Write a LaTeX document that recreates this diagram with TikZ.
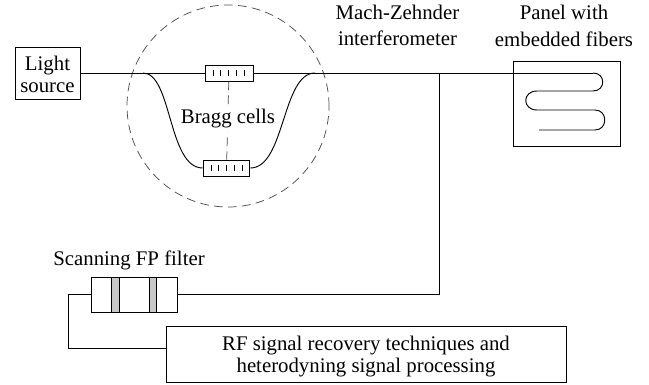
\documentclass[tikz,border=0pt]{standalone}
\usepackage{fontspec}
\setmainfont{Liberation Serif}
\tikzset{
  labeltext/.style={inner sep=0pt, align=center, font=\fontsize{15.6}{20}\selectfont},
  unitbox/.style={draw, line width=0.7pt, inner sep=0pt, align=center, font=\fontsize{15.6}{16.6}\selectfont},
  fiber/.style={line width=0.7pt},
  guide/.style={line width=0.55pt, dash pattern=on 6.5pt off 4pt, draw=black!70}
}
\begin{document}
\begin{tikzpicture}[x=0.75pt, y=-0.75pt]
\useasboundingbox (0,0) rectangle (649,385);

% Bragg cell section
\node[draw=black!70, line width=0.55pt, dash pattern=on 6.5pt off 4pt, circle, minimum size=151.5pt, inner sep=0pt] (ring) at (228,106) {};
\node[unitbox, minimum width=36pt, minimum height=12pt] (uppercell) at (229,73) {};
\node[unitbox, minimum width=35pt, minimum height=12pt] (lowercell) at (226.5,168) {};
\foreach \i in {0,...,4} {
  \draw[line width=0.5pt] (213+7.75*\i,70) -- (213+7.75*\i,76);
  \draw[line width=0.5pt] (211+7.75*\i,165) -- (211+7.75*\i,171);
}
\draw[guide] (uppercell) -- (lowercell);
\node[labeltext, fill=white, inner xsep=1pt, inner ysep=3pt] (bragg) at (228,119) {Bragg cells};

% source and panel
\node[unitbox, minimum width=48.75pt, minimum height=39pt] (source) at (47.5,73) {\rule{0pt}{13pt}Light\\source};
\node[draw, line width=0.7pt, minimum width=80.25pt, minimum height=63.75pt, inner sep=0pt] (panel) at (566.5,103.5) {};

\coordinate (splitleft) at (143,73);
\coordinate (splitright) at (315,73);
\coordinate (tap) at (439,73);
\coordinate (fiberin) at (593,73);

\draw[fiber] (source.east |- splitleft) -- (uppercell.west);
\draw[fiber] (uppercell.east) -- (fiberin);
\draw[fiber] (splitleft) .. controls (172,73) and (168,168) .. (lowercell.west);
\draw[fiber] (lowercell.east) .. controls (285,168) and (282,73) .. (splitright);

% fiber inside the panel
\draw[fiber] (fiberin) .. controls (606,73) and (606,91) .. (593,91)
  -- (537,91) .. controls (522,91) and (522,110) .. (537,110)
  -- (595,110) .. controls (608,110) and (608,130) .. (595,130) -- (539,130);

% filter and recovery box
\node[unitbox, minimum width=64.5pt, minimum height=26.25pt] (filter) at (134,294.5) {};
\node[draw, line width=0.7pt, fill=black!22, minimum width=5.5pt, minimum height=26.25pt, inner sep=0pt] (mirrorleft) at (115.5,294.5) {};
\node[draw, line width=0.7pt, fill=black!22, minimum width=5.5pt, minimum height=26.25pt, inner sep=0pt] (mirrorright) at (153,294.5) {};
\node[unitbox, minimum width=300pt, minimum height=42pt] (recovery) at (366,354) {\rule{0pt}{15pt}RF signal recovery techniques and\\heterodyning signal processing};

\coordinate (corner) at (439,294.5);
\coordinate (backtop) at (68,294.5);
\coordinate (backbottom) at (68,348);

\draw[fiber] (tap) -- (corner) -- (filter.east);
\draw[fiber] (filter.west) -- (backtop) -- (backbottom) -- (recovery.west |- backbottom);

% labels
\node[labeltext] (machlabel) at (397.5,25.5) {Mach-Zehnder\\interferometer};
\node[labeltext] (panellabel) at (564,26) {Panel with\\embedded fibers};
\node[labeltext] (filterlabel) at (129,260) {Scanning FP filter};

\end{tikzpicture}
\end{document}
